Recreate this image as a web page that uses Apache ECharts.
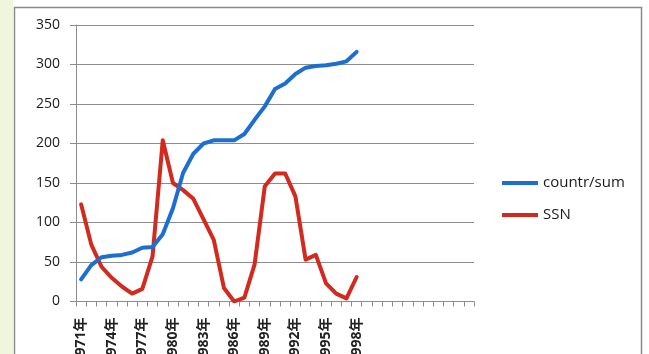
<!DOCTYPE html>
<html>
<head>
<meta charset="utf-8">
<script src="https://cdn.jsdelivr.net/npm/echarts@6/dist/echarts.min.js"></script>
<style>
  html, body { margin: 0; padding: 0; background: #ffffff; }
  #chart { width: 649px; height: 354px; }
</style>
</head>
<body>
<div id="chart"></div>
<script>
// Year categories on the horizontal axis; the axis runs on past the last
// data year with unlabelled slots
const years = [
  '1971年','1972年','1973年','1974年','1975年','1976年','1977年','1978年','1979年','1980年',
  '1981年','1982年','1983年','1984年','1985年','1986年','1987年','1988年','1989年','1990年',
  '1991年','1992年','1993年','1994年','1995年','1996年','1997年','1998年',
  '','','','','','','','','','',''
];

// Cumulative count (countr/sum), 1971-1998
const countrSum = [
  28, 46, 56, 58, 59, 62, 68, 69, 85, 118,
  163, 187, 200, 204, 204, 204, 212, 230, 247, 269,
  276, 288, 296, 298, 299, 301, 304, 316
];

// Sunspot number (SSN), 1971-1998
const ssn = [
  123, 72, 44, 30, 19, 10, 16, 57, 204, 150,
  141, 130, 104, 78, 17, 0, 5, 47, 146, 162,
  162, 133, 53, 59, 23, 10, 4, 31
];

// Value axis tick range
const yMin = 0, yMax = 350, yStep = 50;

const chart = echarts.init(document.getElementById('chart'), null, { renderer: 'canvas' });

const font = '"Open Sans", "Noto Sans CJK SC", sans-serif';
const gridColor = '#8c8c8c';

chart.setOption({
  backgroundColor: '#ffffff',
  animation: false,
  textStyle: { fontFamily: font },
  graphic: [
    // pale strip down the left edge
    { type: 'rect', shape: { x: 0, y: 0, width: 13, height: 354 }, style: { fill: '#eef7dc' }, silent: true, z: -10 },
    // chart frame
    { type: 'rect', shape: { x: 14.5, y: 7.5, width: 627, height: 360 }, style: { fill: 'none', stroke: '#8a8a8a', lineWidth: 1.5 }, silent: true, z: -5 }
  ],
  grid: {
    left: 76, right: 175, top: 25, bottom: 52.5,
    containLabel: false,
    outerBoundsMode: 'none'
  },
  legend: {
    orient: 'vertical',
    left: 497,
    top: 170,
    icon: 'rect',
    itemWidth: 36,
    itemHeight: 4,
    itemGap: 16,
    textStyle: { fontFamily: font, fontSize: 15, color: '#1a1a1a', lineHeight: 16 },
    data: ['countr/sum', 'SSN']
  },
  xAxis: {
    type: 'category',
    data: years,
    boundaryGap: true,
    axisLine: { show: true, lineStyle: { color: gridColor, width: 1 } },
    axisTick: { show: true, interval: 0, length: 5, lineStyle: { color: gridColor } },
    axisLabel: {
      interval: 2,
      rotate: 90,
      margin: 16,
      fontFamily: font,
      fontSize: 14,
      fontWeight: 'bold',
      color: '#222'
    },
    splitLine: { show: false }
  },
  yAxis: {
    type: 'value',
    min: yMin,
    max: yMax,
    interval: yStep,
    axisLine: { show: true, lineStyle: { color: gridColor, width: 1 } },
    axisTick: { show: true, length: 6, lineStyle: { color: gridColor } },
    axisLabel: { margin: 16, fontFamily: font, fontSize: 14, color: '#1a1a1a' },
    splitLine: { show: true, lineStyle: { color: gridColor, width: 1 } }
  },
  series: [
    {
      name: 'countr/sum',
      type: 'line',
      data: countrSum,
      symbol: 'none',
      smooth: false,
      lineStyle: { color: '#1c6fd0', width: 4, join: 'round', cap: 'round' },
      itemStyle: { color: '#1c6fd0' },
      z: 3
    },
    {
      name: 'SSN',
      type: 'line',
      data: ssn,
      symbol: 'none',
      smooth: false,
      lineStyle: { color: '#d22a1e', width: 4, join: 'round', cap: 'round' },
      itemStyle: { color: '#d22a1e' },
      z: 2
    }
  ]
});
</script>
</body>
</html>
